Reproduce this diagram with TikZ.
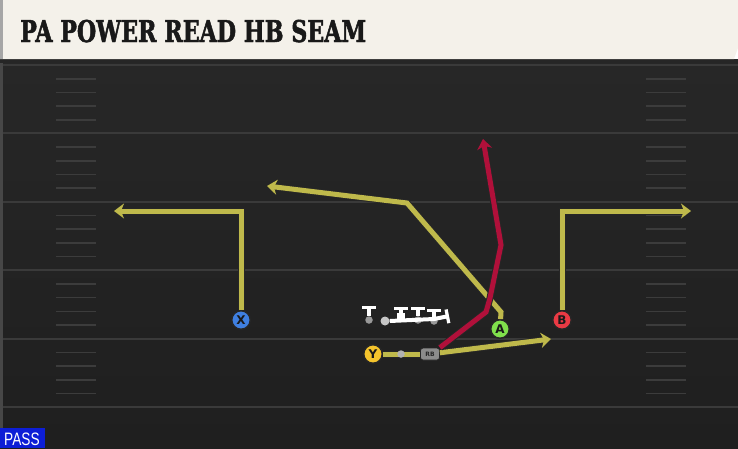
\documentclass[tikz,border=0pt]{standalone}
\usepackage{fontspec}
\usetikzlibrary{arrows.meta,positioning}
\newfontfamily\titlefont{DejaVu Serif}[FakeStretch=0.74, BoldFeatures={FakeBold=1.6}]
\newfontfamily\tagfont{Liberation Sans}[FakeStretch=0.76]
\newfontfamily\letterfont{DejaVu Sans}

\definecolor{turf}{HTML}{272727}
\definecolor{turfdark}{HTML}{1F1F1F}
\definecolor{yardline}{HTML}{3A3A3A}
\definecolor{hashmark}{HTML}{3C3C3C}
\definecolor{banner}{HTML}{F4F1EA}
\definecolor{routeyellow}{HTML}{BFB94B}
\definecolor{runred}{HTML}{B0103A}
\definecolor{xblue}{HTML}{3F7FE0}
\definecolor{yyellow}{HTML}{F5C42C}
\definecolor{agreen}{HTML}{80E04C}
\definecolor{bred}{HTML}{EA3A44}
\definecolor{passblue}{HTML}{0D1ED6}

\tikzset{
  player/.style={circle, minimum size=18.5pt, inner sep=0pt, draw=black!85, line width=1.4pt,
    font=\letterfont\bfseries\fontsize{12}{12}\selectfont, text=black!90},
  rbbox/.style={rectangle, rounded corners=2.5pt, minimum width=19pt, minimum height=12pt,
    inner sep=0pt, fill=black!45, draw=black!85, line width=0.8pt,
    font=\letterfont\bfseries\fontsize{6}{6}\selectfont, text=black!85},
  route/.style={line width=5pt, routeyellow, line join=miter,
    preaction={draw=black!85, line width=7pt},
    -{Stealth[length=10pt, width=15pt, inset=3pt]}},
  runroute/.style={route, runred},
  blocker/.style={line width=3.2pt, white!88, -{Bar[width=14pt, line width=3.2pt]}},
  linedot/.style={circle, fill=black!40, minimum size=7.5pt, inner sep=0pt}
}

\begin{document}
\begin{tikzpicture}[x=1pt, y=-1pt]
\useasboundingbox (0,0) rectangle (738,448);

% field
\shade[top color=turf, bottom color=turfdark] (0,59) rectangle (738,448);
\fill[black!85] (0,59) rectangle (738,63);
\fill[black!72] (0,63) rectangle (2.5,448);

\foreach \i in {0,...,5} {
  \draw[yardline, line width=2pt] (2.5,65+68.4*\i) -- (738,65+68.4*\i);
}
\foreach \i in {0,...,4} {
  \foreach \k in {1,...,4} {
    \draw[hashmark, line width=1.6pt] (56,65+68.4*\i+13.7*\k) -- (96,65+68.4*\i+13.7*\k);
    \draw[hashmark, line width=1.6pt] (646,65+68.4*\i+13.7*\k) -- (686,65+68.4*\i+13.7*\k);
  }
}

% banner
\fill[banner] (0,0) -- (738,0) -- (738,48) -- (734,59) -- (0,59) -- cycle;
\fill[black!35] (0,0) rectangle (3,59);
\node[anchor=base west, inner sep=0pt, text=black!90,
  font=\titlefont\bfseries\fontsize{30}{30}\selectfont] (title) at (20,42) {PA POWER READ HB SEAM};

% players
\node[player, fill=xblue] (X) at (241,320) {X};
\node[player, fill=yyellow] (Y) at (373,354) {Y};
\node[player, fill=agreen] (A) at (500,329) {A};
\node[player, fill=bred] (B) at (562,320) {B};
\node[rbbox] (RB) at (430,354) {RB};

\coordinate (xbreak) at (241,211);
\coordinate (xend) at (114,211);
\coordinate (bbreak) at (562,211);
\coordinate (bend) at (691,211);
\coordinate (astem) at (501,312);
\coordinate (abreak) at (407,203);
\coordinate (aend) at (267,186);
\coordinate (rbflat) at (551,339);

\draw[route] (X) -- (xbreak) -- (xend);
\draw[route] (B) -- (bbreak) -- (bend);
\draw[route] (A) -- (astem) -- (abreak) -- (aend);
\draw[route, -] (Y) -- (RB);
\node[linedot, fill=black!30] (motion) at (401,354) {};
\draw[route] (RB) -- (rbflat);

% run path
\coordinate (cut) at (486,312);
\coordinate (press) at (490,298);
\coordinate (bend2) at (501,245);
\coordinate (runend) at (483,139);
\draw[runroute] (RB.north east) -- (cut) -- (press) -- (bend2) -- (runend);

% line
\node[linedot] (lt) at (369,320) {};
\node[linedot, fill=black!22, minimum size=9pt] (lg) at (385,321) {};
\node[rectangle, fill=white, minimum size=8pt, inner sep=0pt] (c) at (401,317) {};
\node[linedot] (rg) at (418,320) {};
\node[linedot] (rt) at (434,321) {};
\coordinate (ltblk) at (369,306);
\coordinate (cblk) at (401,307);
\coordinate (rgblk) at (418,307);
\coordinate (rtblk) at (434,309);
\coordinate (pullblk) at (449,316);

\draw[blocker] (lt) -- (ltblk);
\draw[blocker, line width=4pt] (lg.east) -- (434,319) -- (pullblk);
\draw[blocker] (c) -- (cblk);
\draw[blocker] (rg) -- (rgblk);
\draw[blocker] (rt) -- (rtblk);

% play type
\fill[passblue] (0,428) rectangle (45,448);
\node[anchor=base west, inner sep=0pt, text=white,
  font=\tagfont\fontsize{18}{18}\selectfont] (tag) at (4,445) {PASS};
\end{tikzpicture}
\end{document}
